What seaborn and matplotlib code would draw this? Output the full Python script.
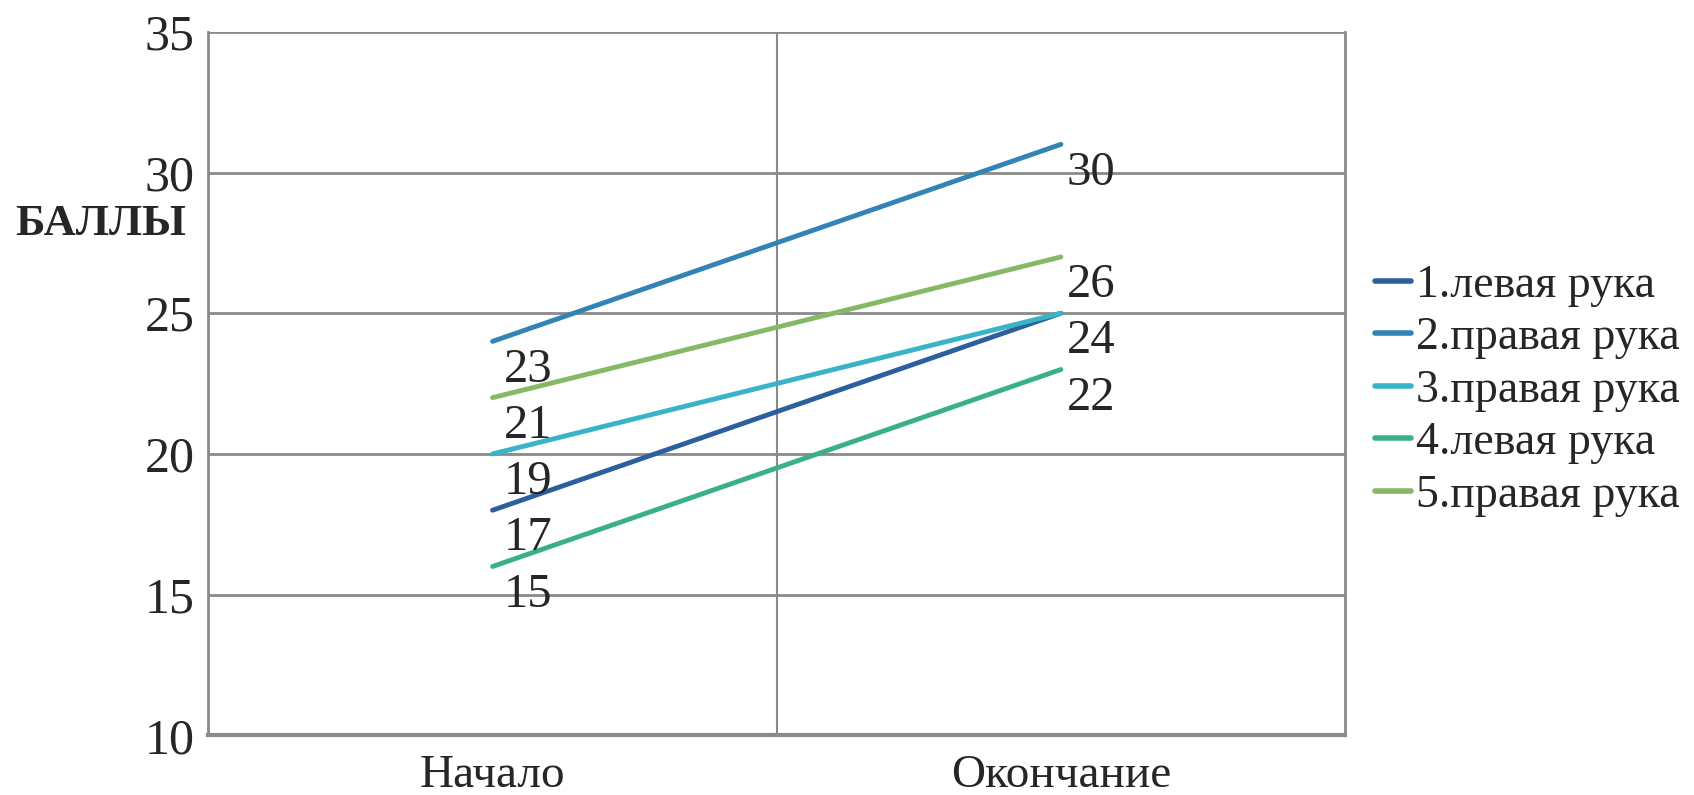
import matplotlib
matplotlib.use("Agg")
import matplotlib.pyplot as plt
import seaborn as sns
import pandas as pd

# data
stages = ["Начало", "Окончание"]
series_names = ["1.левая рука", "2.правая рука", "3.правая рука", "4.левая рука", "5.правая рука"]
start_vals = [18, 24, 20, 16, 22]
end_vals = [25, 31, 25, 23, 27]
start_labels = [23, 21, 19, 17, 15]
end_labels = [30, 26, 24, 22]
colors = ["#2c5f9e", "#3184b5", "#38b4c6", "#3aaf8c", "#86b868"]

rows = []
for name, s, e in zip(series_names, start_vals, end_vals):
    rows.append({"stage": stages[0], "series": name, "value": s})
    rows.append({"stage": stages[1], "series": name, "value": e})
df = pd.DataFrame(rows)

sns.set_style("white")
plt.rcParams["font.family"] = ["Liberation Serif", "DejaVu Serif"]

fig = plt.figure(figsize=(16.94, 7.95), dpi=100)
ax = fig.add_axes([0.123, 0.075, 0.671, 0.885])

grid_c = "#8a8a8a"
for y in [15, 20, 25, 30, 35]:
    ax.axhline(y, color=grid_c, lw=2, zorder=0)
ax.axvline(0.5, color=grid_c, lw=1.5, zorder=0)

sns.lineplot(data=df, x="stage", y="value", hue="series", palette=colors,
             lw=3.5, ax=ax, legend=True, sort=False)

for v in start_labels:
    ax.text(0.02, v, str(v), ha="left", va="center", fontsize=35)
for v in end_labels:
    ax.text(1.01, v, str(v), ha="left", va="center", fontsize=35)

ax.set_xlim(-0.5, 1.5)
ax.set_ylim(10, 35)
ax.set_yticks([10, 15, 20, 25, 30, 35])
ax.set_xlabel("")
ax.set_ylabel("")
ax.tick_params(axis="y", labelsize=36, length=0, pad=10)
ax.tick_params(axis="x", labelsize=34, length=0, pad=14)

for side in ["left", "right", "bottom"]:
    ax.spines[side].set_color(grid_c)
    ax.spines[side].set_linewidth(2)
ax.spines["bottom"].set_linewidth(3)
ax.spines["top"].set_visible(False)

fig.text(0.009, 0.718, "БАЛЛЫ", fontsize=32, fontweight="bold", ha="left", va="center")

leg = ax.legend(loc="center left", bbox_to_anchor=(1.01, 0.49), frameon=False,
                fontsize=33, handlelength=0.8, handletextpad=0.1, labelspacing=0.22,
                borderaxespad=0)
for h in leg.get_lines():
    h.set_linewidth(4)

fig.savefig("out.png", dpi=100)
